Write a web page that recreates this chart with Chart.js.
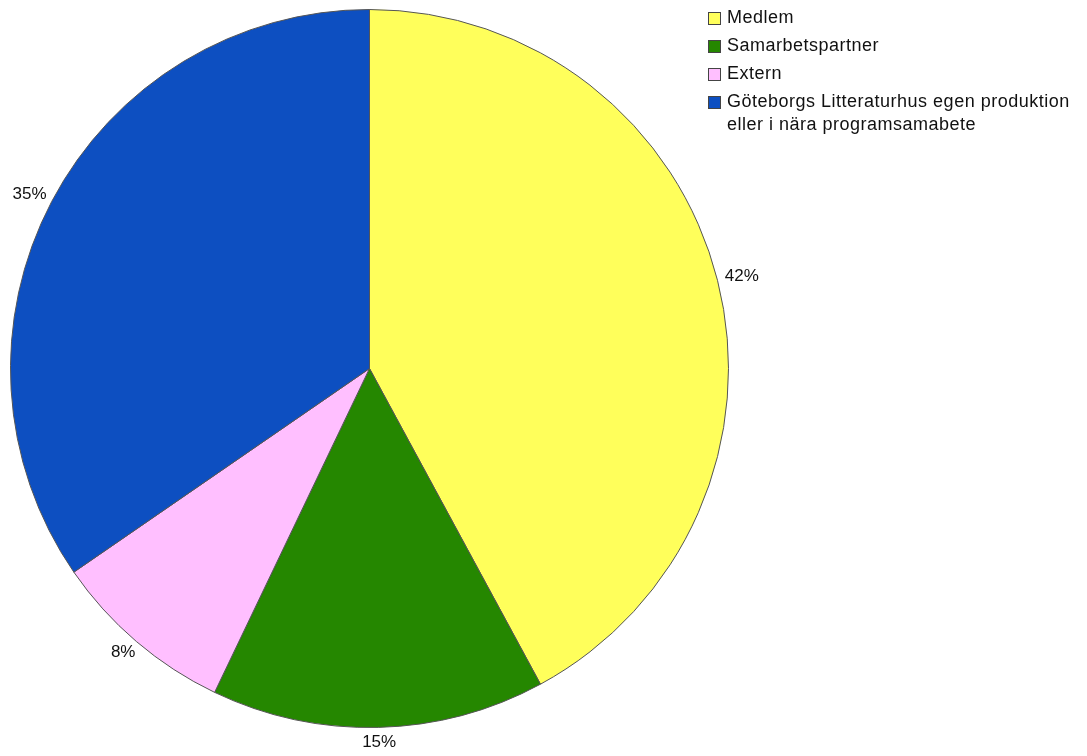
<!DOCTYPE html>
<html>
<head>
<meta charset="utf-8">
<script src="https://cdn.jsdelivr.net/npm/chart.js@4/dist/chart.umd.min.js"></script>
<style>
  html, body { margin: 0; padding: 0; background: #fff; }
  #wrap { position: absolute; left: 0; top: 0; width: 1087px; height: 756px; }
  #legend { position: absolute; left: 708px; top: 6px; font-family: "Liberation Sans", Arial, sans-serif; font-size: 18px; letter-spacing: 0.5px; color: #111; }
  .item { display: flex; align-items: flex-start; margin-bottom: 5px; line-height: 23px; }
  .box { width: 11px; height: 11px; border: 1px solid #444; margin-top: 6px; margin-right: 6px; flex: none; }
</style>
</head>
<body>
<div id="wrap"><canvas id="c" width="1087" height="756"></canvas></div>
<div id="legend"></div>
<script>
const categories = ["Medlem", "Samarbetspartner", "Extern", ["Göteborgs Litteraturhus egen produktion", "eller i nära programsamabete"]];
const values = [42.1, 15.0, 8.3, 34.6];
const colors = ["#ffff5b", "#258700", "#ffbfff", "#0d4fc1"];

const labelPlugin = {
  id: "pctLabels",
  afterDatasetsDraw(chart) {
    const ctx = chart.ctx;
    const meta = chart.getDatasetMeta(0);
    const data = chart.data.datasets[0].data;
    const total = data.reduce((a, b) => a + b, 0);
    ctx.save();
    ctx.font = "17px 'Liberation Sans', Arial, sans-serif";
    ctx.fillStyle = "#111";
    ctx.textAlign = "center";
    ctx.textBaseline = "middle";
    const h = 13;
    meta.data.forEach((arc, i) => {
      const mid = (arc.startAngle + arc.endAngle) / 2;
      const ux = Math.cos(mid), uy = Math.sin(mid);
      const txt = Math.round(data[i] / total * 100) + "%";
      const w = ctx.measureText(txt).width;
      const r = arc.outerRadius + 8;
      const x = arc.x + ux * r + ux * w / 2;
      const y = arc.y + uy * r + uy * h / 2;
      ctx.fillText(txt, x, y);
    });
    ctx.restore();
  }
};

const chart = new Chart(document.getElementById("c"), {
  type: "pie",
  data: {
    labels: categories,
    datasets: [{
      data: values,
      backgroundColor: colors,
      borderColor: "#555",
      borderWidth: 1
    }]
  },
  options: {
    responsive: false,
    animation: false,
    layout: { padding: { left: 10, top: 9, right: 358, bottom: 28 } },
    plugins: { legend: { display: false }, tooltip: { enabled: false } }
  },
  plugins: [labelPlugin]
});

const legend = document.getElementById("legend");
chart.data.labels.forEach((lab, i) => {
  const item = document.createElement("div");
  item.className = "item";
  const box = document.createElement("div");
  box.className = "box";
  box.style.background = chart.data.datasets[0].backgroundColor[i];
  const txt = document.createElement("div");
  txt.innerHTML = (Array.isArray(lab) ? lab : [lab]).map(s => s.replace(/&/g, "&amp;").replace(/</g, "&lt;")).join("<br>");
  item.appendChild(box);
  item.appendChild(txt);
  legend.appendChild(item);
});
</script>
</body>
</html>
